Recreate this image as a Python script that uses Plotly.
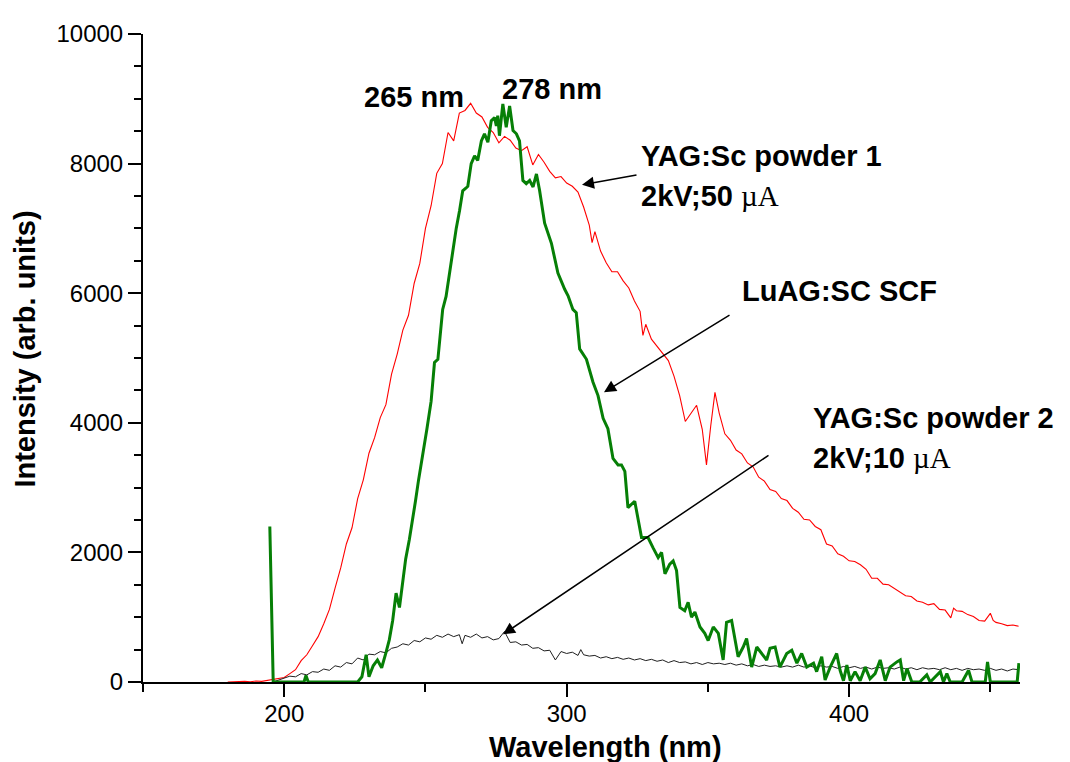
import plotly.graph_objects as go

# ---------------- data ----------------
red_x = [180,182,184,186,188,190,192,194,196,198,200,202,204,206,208,210,212,214,216,218,
         220,222,224,226,228,230,232,234,236,238,240,242,244,246,248,250,252,254,256,258,
         260,262,264,266,268,270,272,274,276,278,280,282,284,286,288,290,292,294,296,298,
         300,302,304,306,308,309,310,312,314,316,318,320,322,324,326,327,328,330,332,334,
         336,338,340,342,344,346,348,349.5,351,352.5,354,356,358,360,362,364,366,368,370,372,
         374,376,378,380,382,384,386,388,390,392,394,396,398,400,402,404,406,408,410,412,
         414,416,418,420,422,424,426,428,430,432,434,436,437,438,440,442,444,446,448,450,
         451,452,454,456,458,460]
red_y = [0,5,0,10,5,15,10,25,30,45,70,130,190,330,420,560,700,900,1120,1450,
         1760,2130,2380,2830,3120,3530,3770,4080,4280,4750,5060,5430,5660,6150,6460,7000,7350,7850,8000,8480,
         8350,8780,8820,8930,8780,8720,8560,8480,8320,8420,8360,8240,8200,8260,7980,8140,8020,7880,7780,7800,
         7700,7650,7560,7330,7050,6780,6950,6650,6470,6330,6330,6190,6080,5880,5720,5350,5520,5290,5180,5060,
         4960,4720,4420,4020,4150,4270,3900,3350,3950,4470,4150,3830,3730,3580,3520,3380,3320,3160,3100,2970,
         2940,2830,2800,2680,2620,2510,2500,2400,2350,2130,2100,1980,1940,1870,1860,1810,1740,1600,1600,1510,
         1500,1440,1390,1330,1320,1250,1230,1190,1210,1120,1110,990,1140,1100,1090,1040,1010,950,940,1060,
         950,920,900,870,880,860]

green_x = [194.9,196.1,200,205,207,207.7,208.5,210,215,220,224,226,227.5,229,230,231.5,233,234.5,236,237.2,
           238.4,239.6,240.8,241.9,243,244.3,245.5,246.5,247.5,248.5,249.5,250.5,252,253.2,254.4,255.3,256.1,257.3,258.5,259.7,
           260.9,262.1,263.2,264.3,265,266.2,267.4,268.5,269.8,270.9,272.1,273.3,274.5,275.1,275.6,276.2,277.4,278.6,279.8,281,
           282.2,283.3,283.9,284.5,285.7,286.9,288.1,289.3,290.4,292.2,294.6,296.9,299.3,300.5,302.2,303.4,304.6,307,309.3,311.1,
           312.9,314.6,316.4,318.2,319.4,320.6,321.7,324.1,326.5,328.8,330.6,332.4,333.6,334.8,336.5,337.7,338.9,340.1,341.8,343,
           344.2,345.4,347.2,348.9,350.1,351.9,353.7,355.4,356.6,358.4,360.7,362.5,363.7,365.5,367.3,369,370.8,372,373.8,375.5,
           377.9,379.7,381.5,383.2,385,387.4,388.5,390.3,391.5,393.3,395.6,396.8,398,399.2,400.4,402.1,403.9,405.7,407.4,409.2,
           411,412.8,414.5,416.9,418.1,419.3,420.5,422.2,425,427.5,428.7,432.3,433.4,434.6,435.8,440,442.3,443.5,448.2,449,
           450,455,459.5,460.1]
green_y = [2400,0,0,0,0,100,0,0,0,0,0,0,80,420,80,250,340,220,450,650,
           950,1370,1150,1560,1900,2200,2500,2800,3100,3350,3650,3900,4330,4930,4980,5400,5750,5950,6300,6700,
           7000,7280,7580,7620,7650,8000,8120,8050,8350,8460,8330,8660,8710,8580,8740,8430,8920,8560,8890,8510,
           8460,8350,8050,7740,7690,7740,7640,7840,7590,7080,6770,6310,6060,5960,5750,5700,5140,4980,4630,4420,
           4070,3910,3450,3350,3350,3250,2690,2790,2230,2230,2070,1920,2000,1670,1820,1870,1720,1150,1100,1230,
           1000,1080,850,750,640,850,750,340,920,950,390,540,670,230,540,440,340,520,540,230,
           440,490,290,440,230,290,160,390,30,230,440,180,20,260,20,160,20,230,50,130,
           340,20,230,310,340,20,210,0,0,110,0,160,0,130,0,0,180,0,0,310,
           0,0,0,290]

black_x = [196,198,200,202,204,206,208,210,212,214,216,218,220,222,224,226,228,230,232,234,
           236,238,240,242,244,246,248,250,252,254,256,258,260,262,263,264,266,268,270,272,
           274,276,278,280,282,284,286,288,290,292,294,296,298,300,302,304,305,306,308,310,
           312,314,316,318,320,322,324,326,328,330,332,334,336,338,340,342,344,346,348,350,
           352,354,356,358,360,362,364,366,368,370,372,374,376,378,380,382,384,386,388,390,
           392,394,396,398,400,402,404,406,408,410,412,414,416,418,420,422,424,426,428,430,
           432,434,436,438,440,442,444,446,448,450,452,454,456,458,460]
black_y = [0,30,50,90,80,130,110,160,150,200,180,250,230,300,280,370,340,430,420,470,
           450,520,540,590,570,640,620,680,660,720,690,740,700,730,590,720,690,740,680,700,
           650,670,780,610,620,570,580,520,530,480,490,340,470,440,460,410,500,420,400,410,
           370,390,360,380,350,370,340,360,330,350,320,340,300,330,300,310,280,300,270,300,
           280,290,270,290,260,280,250,270,240,260,240,250,230,250,230,260,230,250,220,250,
           230,240,210,240,220,240,210,230,200,230,210,220,200,230,200,220,190,220,200,210,
           190,220,190,210,180,210,190,200,180,210,180,200,170,200,190]

x_ticks = [200, 300, 400]
y_ticks = [0, 2000, 4000, 6000, 8000, 10000]

# ---------------- layout helpers ----------------
# target plot area in screen pixels; the page body adds an 8 px offset
OFF = 8
L, R, T, B = 143, 1020, 29, 682
W, H = 1062, 754
def P(px, py):
    return (px - L) / (R - L), (B - py) / (B - T)

SANS = "Liberation Sans, Arial, sans-serif"

fig = go.Figure()
fig.add_trace(go.Scatter(x=red_x, y=red_y, mode="lines",
                         line=dict(color="#ff0000", width=1.1), name="YAG:Sc powder 1"))
fig.add_trace(go.Scatter(x=black_x, y=black_y, mode="lines",
                         line=dict(color="#202020", width=1), name="YAG:Sc powder 2"))
fig.add_trace(go.Scatter(x=green_x, y=green_y, mode="lines",
                         line=dict(color="#067f06", width=3), name="LuAG:SC SCF"))

ann = []
def text(px, py, s, anchor="left", size=29):
    x, y = P(px, py)
    ann.append(dict(x=x, y=y, xref="paper", yref="paper", text=s, showarrow=False,
                    xanchor=anchor, yanchor="middle",
                    font=dict(family=SANS, size=size, color="black")))

def arrow(tail, tip):
    x, y = P(*tip)
    ann.append(dict(x=x, y=y, xref="paper", yref="paper", text="", showarrow=True,
                    ax=tail[0] - tip[0], ay=tail[1] - tip[1],
                    arrowhead=2, arrowsize=1.6, arrowwidth=1.5, arrowcolor="black"))

mu = "<span style='font-family:Liberation Serif, Times New Roman, serif;font-weight:normal'>µA</span>"
text(362, 92, "<b>265 nm</b>")
text(500, 84, "<b>278 nm</b>")
text(639, 152, "<b>YAG:Sc powder 1</b>")
text(639, 192, "<b>2kV;50 </b>" + mu)
text(740, 288, "<b>LuAG:SC SCF</b>")
text(811, 416, "<b>YAG:Sc powder 2</b>")
text(811, 456, "<b>2kV;10 </b>" + mu)
arrow((638, 171), (582, 181))
arrow((731, 312), (604, 390))
arrow((770, 454), (503, 634))

# axis titles
x0, y0 = P(605, 748)
ann.append(dict(x=x0, y=y0, xref="paper", yref="paper", text="<b>Wavelength (nm)</b>",
                showarrow=False, xanchor="center", yanchor="middle",
                font=dict(family=SANS, size=29, color="black")))
x1, y1 = P(25, 346)
ann.append(dict(x=x1, y=y1, xref="paper", yref="paper", text="<b>Intensity (arb. units)</b>",
                showarrow=False, xanchor="center", yanchor="middle", textangle=-90,
                font=dict(family=SANS, size=29, color="black")))

fig.update_layout(
    width=W, height=H,
    margin=dict(l=L - OFF, r=W - (R - OFF), t=T - OFF, b=H - (B - OFF), pad=0),
    paper_bgcolor="white", plot_bgcolor="white",
    showlegend=False,
    annotations=ann,
    font=dict(family=SANS, color="black"),
)
fig.update_xaxes(range=[150, 460.5], tickvals=x_ticks, ticktext=[str(v) for v in x_ticks],
                 showgrid=False, zeroline=False, showline=True, linecolor="black", linewidth=2,
                 ticks="outside", ticklen=13, tickwidth=2, tickcolor="black",
                 ticklabelstandoff=-4,
                 tickfont=dict(family=SANS, size=24, color="black"),
                 minor=dict(tickvals=[150, 250, 350, 450], ticks="outside", ticklen=8,
                            tickwidth=2, tickcolor="black"))
fig.update_yaxes(range=[0, 10000], tickvals=y_ticks, ticktext=[str(v) for v in y_ticks],
                 showgrid=False, zeroline=False, showline=True, linecolor="black", linewidth=2,
                 ticks="outside", ticklen=13, tickwidth=2, tickcolor="black",
                 tickfont=dict(family=SANS, size=24, color="black"),
                 minor=dict(dtick=500, ticks="outside", ticklen=7, tickwidth=2, tickcolor="black"))

fig.write_html("out.html")
